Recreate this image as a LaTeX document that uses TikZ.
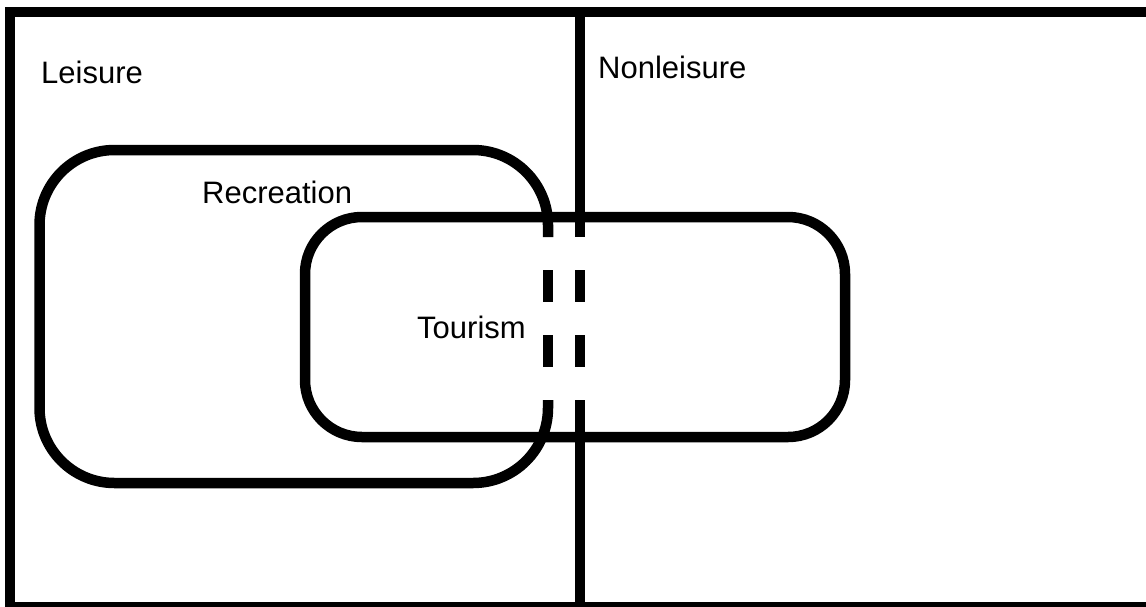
\documentclass[tikz,border=0pt]{standalone}
\usepackage{fontspec}
\setmainfont{Liberation Sans}
\begin{document}
\begin{tikzpicture}[x=1pt,y=-1pt,
  heavy/.style={line width=10.5pt,line cap=butt},
  lbl/.style={anchor=base west,inner sep=0pt,font=\fontsize{31}{37}\selectfont}]
\useasboundingbox (0,0) rectangle (1146,606);
\clip (0,0) rectangle (1146,606);
% outer frame (runs past the right and bottom edges)
\draw[heavy] (10,12) rectangle (1160,607);
% divider between leisure and nonleisure
\coordinate (dtop) at (580,12);
\coordinate (dbot) at (580,606);
\draw[heavy] (dtop) -- (580,237);
\draw[heavy] (580,270) -- (580,302);
\draw[heavy] (580,335) -- (580,367);
\draw[heavy] (580,400) -- (dbot);
% recreation: right side broken where it passes through tourism
\draw[heavy,rounded corners=75pt] (548,237) -- (548,150) -- (39.5,150) -- (39.5,483) -- (548,483) -- (548,400);
\draw[heavy] (548,270) -- (548,302);
\draw[heavy] (548,335) -- (548,367);
% tourism
\draw[heavy,rounded corners=57pt] (305,217) rectangle (845,437);
% labels
\node[lbl] (leisure) at (41,83) {Leisure};
\node[lbl] (nonleisure) at (598,78) {Nonleisure};
\node[lbl] (recreation) at (202,203) {Recreation};
\node[lbl] (tourism) at (417,338) {Tourism};
\end{tikzpicture}
\end{document}
